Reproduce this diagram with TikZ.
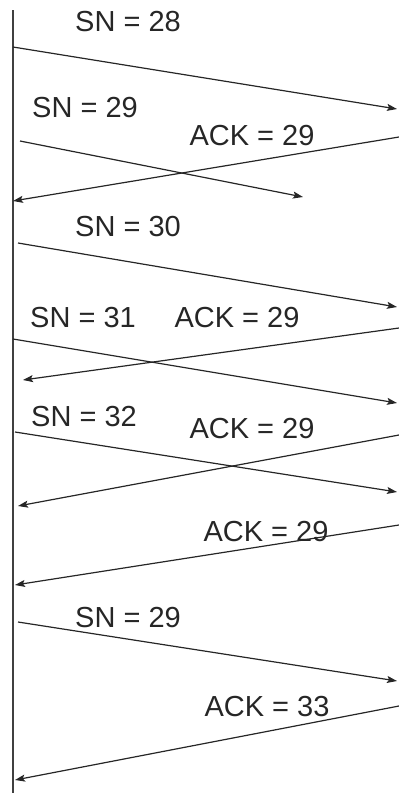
\documentclass[tikz,border=0pt]{standalone}
\usepackage{fontspec}
\setmainfont{Liberation Sans}
\usetikzlibrary{arrows.meta}
\begin{document}
\begin{tikzpicture}[x=1pt,y=-1pt,
  msg/.style={draw=black!85,line width=1.2pt,-{Stealth[length=10pt,width=7pt,inset=2pt]}},
  lbl/.style={inner sep=0pt,font=\fontsize{29}{31}\selectfont,text=black!85},
  life/.style={draw=black!75,line width=2pt}]
\useasboundingbox (0,0) rectangle (399,793);
% lifeline
\coordinate (top) at (13,10);
\coordinate (bot) at (13,793);
\draw[life] (top) -- (bot);
% endpoints
\coordinate (a1) at (13,47);   \coordinate (b1) at (397,109);
\coordinate (a2) at (20,141);  \coordinate (b2) at (303,197);
\coordinate (a3) at (399,137); \coordinate (b3) at (13,201);
\coordinate (a4) at (18,243);  \coordinate (b4) at (397,307);
\coordinate (a5) at (13,339);  \coordinate (b5) at (397,403);
\coordinate (a6) at (399,328); \coordinate (b6) at (23,380);
\coordinate (a7) at (15,432);  \coordinate (b7) at (397,492);
\coordinate (a8) at (399,435); \coordinate (b8) at (18,506);
\coordinate (a9) at (399,525); \coordinate (b9) at (15,585);
\coordinate (a10) at (18,622); \coordinate (b10) at (397,681);
\coordinate (a11) at (399,706); \coordinate (b11) at (15,780);
\foreach \i in {1,...,11} {\draw[msg] (a\i) -- (b\i);}
% labels
\node[lbl] (l1) at (128,22) {SN = 28};
\node[lbl] (l2) at (85,108) {SN = 29};
\node[lbl] (l3) at (252,136) {ACK = 29};
\node[lbl] (l4) at (128,227) {SN = 30};
\node[lbl] (l5) at (83,318) {SN = 31};
\node[lbl] (l6) at (237,318) {ACK = 29};
\node[lbl] (l7) at (84,417) {SN = 32};
\node[lbl] (l8) at (252,429) {ACK = 29};
\node[lbl] (l9) at (266,532) {ACK = 29};
\node[lbl] (l10) at (128,618) {SN = 29};
\node[lbl] (l11) at (267,707) {ACK = 33};
\end{tikzpicture}
\end{document}
